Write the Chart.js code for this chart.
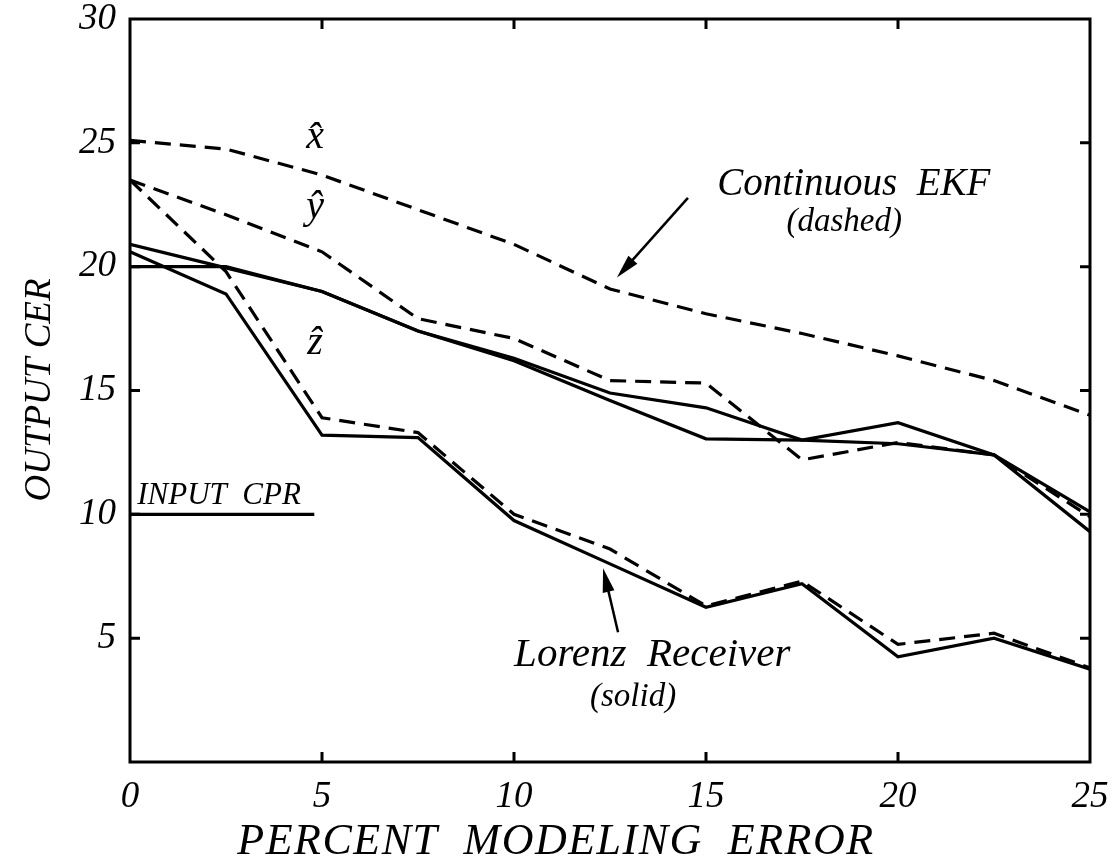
<!DOCTYPE html>
<html>
<head>
<meta charset="utf-8">
<title>Output CER vs percent modeling error</title>
<script src="https://cdn.jsdelivr.net/npm/chart.js@4.4.0/dist/chart.umd.min.js"></script>
<style>
  html, body { margin: 0; padding: 0; background: #fff; }
  #wrap { width: 1112px; height: 864px; }
</style>
</head>
<body>
<div id="wrap"><canvas id="myChart" width="1112" height="864"></canvas></div>
<script>
// porcentaje de error de modelado (eje X)
var errorPct = [0, 2.5, 5, 7.5, 10, 12.5, 15, 17.5, 20, 22.5, 25];

// Continuous EKF (dashed)
var ekfX = [25.1, 24.75, 23.7, 22.3, 20.9, 19.1, 18.1, 17.3, 16.4, 15.4, 14.0];
var ekfY = [23.5, 22.1, 20.6, 17.9, 17.1, 15.4, 15.3, 12.2, 12.9, 12.4, 9.9];
var ekfZ = [23.5, 19.8, 13.9, 13.3, 10.0, 8.6, 6.3, 7.3, 4.75, 5.2, 3.8];

// Lorenz Receiver (solid)
var lorX = [20.9, 19.95, 19.0, 17.4, 16.3, 14.9, 14.3, 13.0, 13.7, 12.4, 9.3];
var lorY = [20.0, 20.0, 19.0, 17.4, 16.2, 14.6, 13.05, 13.0, 12.85, 12.4, 10.1];
var lorZ = [20.6, 18.9, 13.2, 13.1, 9.75, 8.0, 6.25, 7.2, 4.25, 5.0, 3.75];

// linea INPUT CPR
var inputCprX = [0, 4.8];
var inputCprY = [10, 10];

var xTicks = [0, 5, 10, 15, 20, 25];
var yTicks = [5, 10, 15, 20, 25, 30];

var SERIF = "'Liberation Serif', 'DejaVu Serif', serif";

function pts(xs, ys) {
  return xs.map(function (x, i) { return { x: x, y: ys[i] }; });
}

function serie(label, data, dashed) {
  return {
    label: label,
    data: data,
    borderColor: '#000',
    backgroundColor: '#000',
    borderWidth: 3.2,
    borderDash: dashed ? [16, 9] : [],
    pointRadius: 0,
    tension: 0,
    fill: false
  };
}

// anotaciones en unidades de datos
var notes = [
  { text: 'x\u0302', x: 4.82, y: 25.2, size: 40 },
  { text: 'y\u0302', x: 4.82, y: 22.4, size: 40 },
  { text: 'z\u0302', x: 4.82, y: 16.9, size: 40 },
  { text: 'Continuous  EKF', x: 18.85, y: 23.3, size: 39 },
  { text: '(dashed)', x: 18.6, y: 21.8, size: 33 },
  { text: 'Lorenz  Receiver', x: 13.6, y: 4.3, size: 41 },
  { text: '(solid)', x: 13.1, y: 2.6, size: 33 },
  { text: 'INPUT  CPR', x: 2.32, y: 10.75, size: 31 }
];
var arrows = [
  { x0: 14.53, y0: 22.78, x1: 12.68, y1: 19.56 },
  { x0: 12.71, y0: 5.24, x1: 12.32, y1: 7.82 }
];

var decor = {
  id: 'decor',
  afterDatasetsDraw: function (chart) {
    var ctx = chart.ctx;
    var a = chart.chartArea;
    var sx = chart.scales.x, sy = chart.scales.y;
    ctx.save();
    ctx.strokeStyle = '#000';
    ctx.fillStyle = '#000';
    ctx.lineWidth = 3;
    ctx.setLineDash([]);
    // marco
    ctx.strokeRect(a.left, a.top, a.right - a.left, a.bottom - a.top);
    // marcas hacia dentro
    ctx.beginPath();
    xTicks.forEach(function (v) {
      if (v === 0 || v === 25) return;
      var px = sx.getPixelForValue(v);
      ctx.moveTo(px, a.bottom); ctx.lineTo(px, a.bottom - 10);
      ctx.moveTo(px, a.top); ctx.lineTo(px, a.top + 10);
    });
    yTicks.forEach(function (v) {
      if (v === 30) return;
      var py = sy.getPixelForValue(v);
      ctx.moveTo(a.left, py); ctx.lineTo(a.left + 10, py);
      ctx.moveTo(a.right, py); ctx.lineTo(a.right - 10, py);
    });
    ctx.stroke();

    // flechas
    arrows.forEach(function (ar) {
      var x0 = sx.getPixelForValue(ar.x0), y0 = sy.getPixelForValue(ar.y0);
      var x1 = sx.getPixelForValue(ar.x1), y1 = sy.getPixelForValue(ar.y1);
      var ang = Math.atan2(y1 - y0, x1 - x0);
      ctx.lineWidth = 2.5;
      ctx.beginPath();
      ctx.moveTo(x0, y0);
      ctx.lineTo(x1 - 16 * Math.cos(ang), y1 - 16 * Math.sin(ang));
      ctx.stroke();
      ctx.beginPath();
      ctx.moveTo(x1, y1);
      ctx.lineTo(x1 - 24 * Math.cos(ang) + 6 * Math.sin(ang), y1 - 24 * Math.sin(ang) - 6 * Math.cos(ang));
      ctx.lineTo(x1 - 24 * Math.cos(ang) - 6 * Math.sin(ang), y1 - 24 * Math.sin(ang) + 6 * Math.cos(ang));
      ctx.closePath();
      ctx.fill();
    });

    // textos
    ctx.textAlign = 'center';
    ctx.textBaseline = 'middle';
    notes.forEach(function (n) {
      ctx.font = 'italic ' + n.size + 'px ' + SERIF;
      ctx.fillText(n.text, sx.getPixelForValue(n.x), sy.getPixelForValue(n.y));
    });

    // titulos de ejes
    ctx.font = 'italic 44px ' + SERIF;
    ctx.letterSpacing = '1.5px';
    ctx.fillText('PERCENT  MODELING  ERROR', 556, 842);
    ctx.letterSpacing = '0px';
    ctx.font = 'italic 37px ' + SERIF;
    ctx.translate(40, 390);
    ctx.rotate(-Math.PI / 2);
    ctx.fillText('OUTPUT CER', 0, 0);
    ctx.restore();
  }
};

var ctx = document.getElementById('myChart').getContext('2d');

var chart = new Chart(ctx, {
  type: 'line',
  data: {
    datasets: [
      serie('EKF x', pts(errorPct, ekfX), true),
      serie('EKF y', pts(errorPct, ekfY), true),
      serie('EKF z', pts(errorPct, ekfZ), true),
      serie('Lorenz x', pts(errorPct, lorX), false),
      serie('Lorenz y', pts(errorPct, lorY), false),
      serie('Lorenz z', pts(errorPct, lorZ), false),
      serie('INPUT CPR', pts(inputCprX, inputCprY), false)
    ]
  },
  options: {
    responsive: false,
    animation: false,
    devicePixelRatio: 1,
    layout: { padding: { left: 0, right: 22, top: 19, bottom: 0 } },
    plugins: {
      legend: { display: false },
      tooltip: { enabled: false }
    },
    scales: {
      x: {
        type: 'linear',
        min: 0,
        max: 25,
        grid: { display: false, drawTicks: false },
        border: { display: false },
        afterBuildTicks: function (s) { s.ticks = xTicks.map(function (v) { return { value: v }; }); },
        afterFit: function (s) { s.height = 102; s.paddingLeft = 0; s.paddingRight = 0; },
        ticks: {
          color: '#000',
          padding: 17,
          maxRotation: 0,
          font: { family: SERIF, size: 37, style: 'italic', lineHeight: 1.0 }
        }
      },
      y: {
        type: 'linear',
        min: 0,
        max: 30,
        grid: { display: false, drawTicks: false },
        border: { display: false },
        afterBuildTicks: function (s) { s.ticks = yTicks.map(function (v) { return { value: v }; }); },
        afterFit: function (s) { s.width = 130; s.paddingTop = 0; s.paddingBottom = 0; },
        ticks: {
          color: '#000',
          padding: 14,
          font: { family: SERIF, size: 37, style: 'italic', lineHeight: 1.0 }
        }
      }
    }
  },
  plugins: [decor]
});
</script>
</body>
</html>
